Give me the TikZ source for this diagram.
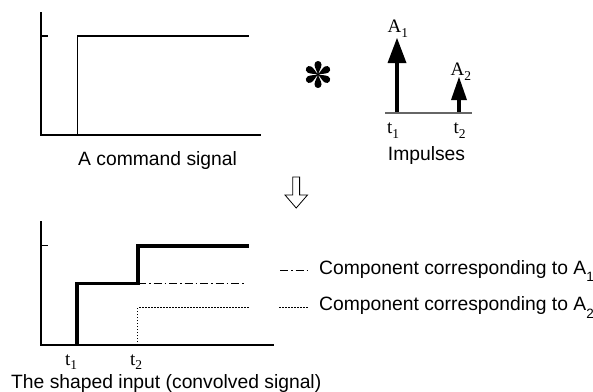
\documentclass[tikz,border=0pt]{standalone}
\usepackage{fontspec}
\setmainfont{Liberation Sans}
\newfontfamily\serifface{Liberation Serif}
% lowered small index, as used in t1, A1 ...
\newcommand\lowsub[2][0.3em]{\raisebox{-#1}{\fontsize{13.5}{13.5}\selectfont #2}}
\begin{document}
\begin{tikzpicture}[x=1pt,y=-1pt,
  axis/.style={line width=1.1pt},
  sig/.style={line width=1.1pt},
  thicksig/.style={line width=3.6pt},
  dashdot/.style={line width=1pt,dash pattern=on 8pt off 3pt on 1.5pt off 3pt},
  dotline/.style={line width=1pt,dash pattern=on 1.5pt off 1.5pt},
  caption/.style={font=\fontsize{19.3}{22}\selectfont,inner sep=0pt},
  lbl/.style={font=\fontsize{19}{22}\selectfont\serifface,inner sep=0pt},
  petal/.style={fill=black}]
\useasboundingbox (0,0) rectangle (593,391);

% --- command signal (step) ---
\draw[axis] (41,12) -- (41,135) -- (261,135);
\draw[axis] (41,36) -- (47.5,36);
\draw[sig] (77.7,135) -- (77.7,36) -- (249.3,36);
\node[caption,anchor=base west] (cmd) at (78,165) {A command signal};

% --- convolution symbol: six teardrop spokes ---
\begin{scope}[shift={(318,74.5)}]
  \foreach \a in {0,60,...,300}
    \fill[petal,rotate=\a] (0,0) .. controls (-0.8,-3) and (-3.5,-6.8) .. (-3.5,-10)
                            .. controls (-3.5,-14.6) and (3.5,-14.6) .. (3.5,-10)
                            .. controls (3.5,-6.8) and (0.8,-3) .. (0,0);
  \fill (0,0) circle (1.6pt);
\end{scope}

% --- impulses ---
\draw[line width=2pt,black!60] (385,112.5) -- (472,112.5);
\coordinate (i1) at (397,112);
\coordinate (i1tip) at (397,38);
\coordinate (i2) at (459,112);
\coordinate (i2tip) at (459,77);
\draw[line width=4pt] (i1) -- (397,62);
\fill (i1tip) -- (406.5,63) -- (387.5,63) -- cycle;
\draw[line width=3.2pt] (i2) -- (459,99);
\fill (i2tip) -- (467,100) -- (451,100) -- cycle;
\node[lbl,anchor=base west] (a1) at (387.5,32) {A\lowsub{1}};
\node[lbl,anchor=base west] (a2) at (450.5,75) {A\lowsub{2}};
\node[lbl,anchor=base west] (ti1) at (387,133) {t\lowsub{1}};
\node[lbl,anchor=base west] (ti2) at (453.5,133) {t\lowsub{2}};
\node[caption,anchor=base] (imp) at (426.5,160) {Impulses};

% --- hollow down arrow ---
\draw[line width=0.8pt,line join=miter]
  (292.8,177) -- (299.6,177) -- (299.6,195) -- (307.5,195) -- (296.2,208)
  -- (285,195) -- (292.8,195) -- cycle;

% --- shaped input ---
\draw[axis] (41,221) -- (41,345) -- (274,345);
\draw[axis] (41,245.7) -- (47.5,245.7);
\draw[dotline] (137.7,345) -- (137.7,307.3) -- (249.3,307.3);
\draw[dashdot] (138,283.3) -- (246,283.3);
\draw[thicksig,line join=miter] (76.7,345) -- (76.7,283.3) -- (137.7,283.3)
  -- (137.7,245.7) -- (249.3,245.7);
\node[lbl,anchor=base west] (tb1) at (65,365) {t\lowsub[0.22em]{1}};
\node[lbl,anchor=base west] (tb2) at (130,365) {t\lowsub[0.22em]{2}};
\node[caption,anchor=base west] (shaped) at (11,388) {The shaped input (convolved signal)};

% --- legend ---
\coordinate (l1a) at (280,270.5);
\coordinate (l1b) at (309,270.5);
\coordinate (l2a) at (279,307.3);
\coordinate (l2b) at (309,307.3);
\draw[dashdot] (l1a) -- (l1b);
\draw[dotline] (l2a) -- (l2b);
\node[caption,anchor=base west] (leg1) at (319,274) {Component corresponding to A\lowsub[0.4em]{1}};
\node[caption,anchor=base west] (leg2) at (319,310.5) {Component corresponding to A\lowsub[0.4em]{2}};
\end{tikzpicture}
\end{document}
